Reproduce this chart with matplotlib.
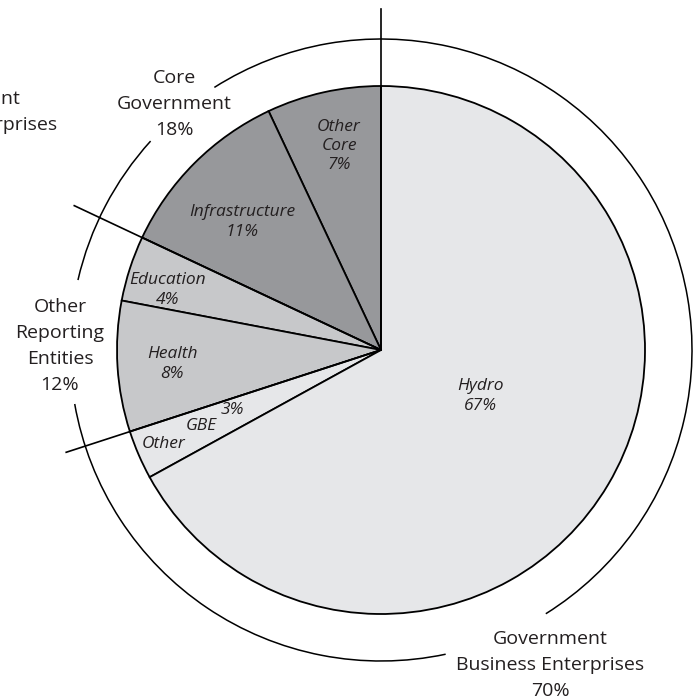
import matplotlib.pyplot as plt
import numpy as np
from matplotlib.patches import Arc

plt.rcParams['font.family'] = ['Open Sans', 'DejaVu Sans']

# slices, counter-clockwise from 12 o'clock
slice_names = ['Other Core', 'Infrastructure', 'Education', 'Health', 'Other GBE', 'Hydro']
slice_pct = [7, 11, 4, 8, 3, 67]
slice_group = ['core', 'core', 'ore', 'ore', 'gbe', 'gbe']

group_names = ['Core\nGovernment', 'Other\nReporting\nEntities', 'Government\nBusiness Enterprises']
group_pct = [18, 12, 70]

group_colors = {'core': '#97989b', 'ore': '#c7c8ca', 'gbe': '#e6e7e9'}

W, H = 697, 699
cx, cy = 381, H - 350
R = 264
R_ring = 311
ink = '#231f20'

fig = plt.figure(figsize=(W / 100, H / 100), dpi=100)
ax = fig.add_axes([0, 0, 1, 1])

ax.pie(slice_pct, startangle=90, counterclock=True, radius=R, center=(cx, cy),
       colors=[group_colors[g] for g in slice_group],
       wedgeprops=dict(edgecolor='black', linewidth=1.3))

# divider lines between groups, running out past the ring
cum = np.cumsum([0] + group_pct[:-1])
ext = [341, 339, 331]
for c, L in zip(cum, ext):
    a = np.deg2rad(90 + c * 3.6)
    ax.plot([cx, cx + L * np.cos(a)], [cy, cy + L * np.sin(a)], color='black', lw=1.2)

# outer ring, broken where the group labels sit
for t1, t2 in [(302, 122.4), (137.8, 167), (190, 282)]:
    ax.add_patch(Arc((cx, cy), 2 * R_ring, 2 * R_ring, theta1=t1, theta2=t2,
                     color='black', lw=1.1))

# group labels
gpos = [(174, 104), (60, 346), (550, 665)]
for name, p, (x, y) in zip(group_names, group_pct, gpos):
    ax.text(x, H - y, f'{name}\n{p}%', ha='center', va='center', fontsize=14,
            linespacing=1.55, color=ink)

# cut-off label from the neighbouring chart
ax.text(-37, H - 112, 'Government\nBusiness Enterprises', ha='center', va='center',
        fontsize=14, linespacing=1.55, color=ink)

# slice labels
spos = {'Other Core': (339, 146), 'Infrastructure': (242, 222), 'Education': (168, 290),
        'Health': (172, 364), 'Hydro': (480, 396)}
stext = {'Other Core': 'Other\nCore', 'Infrastructure': 'Infrastructure',
         'Education': 'Education', 'Health': 'Health', 'Hydro': 'Hydro'}
for name, p in zip(slice_names, slice_pct):
    if name in spos:
        x, y = spos[name]
        ax.text(x, H - y, f'{stext[name]}\n{p}%', ha='center', va='center',
                fontsize=12.5, style='italic', linespacing=1.25, color=ink)

gbe_other = slice_pct[slice_names.index('Other GBE')]
ax.text(164, H - 444, 'Other', ha='center', va='center', fontsize=12.5, style='italic', color=ink)
ax.text(201, H - 426, 'GBE', ha='center', va='center', fontsize=12.5, style='italic', color=ink)
ax.text(232, H - 410, f'{gbe_other}%', ha='center', va='center', fontsize=12.5, style='italic', color=ink)

ax.set_xlim(0, W)
ax.set_ylim(0, H)
ax.set_aspect('auto')
ax.axis('off')

fig.savefig('out.png', dpi=100)
